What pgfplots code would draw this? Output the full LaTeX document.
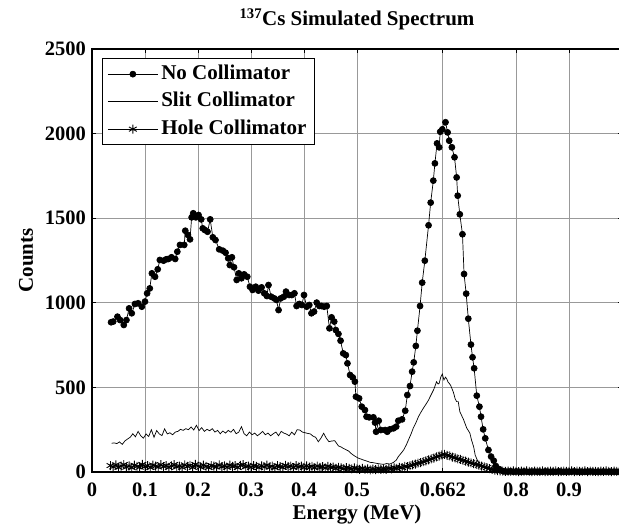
\documentclass[border=0pt]{standalone}
\usepackage{fontspec}
\setmainfont{Liberation Serif}
\usepackage{pgfplots}
\pgfplotsset{compat=1.18}
\newcommand{\tickfont}{\fontsize{20.5}{24}\selectfont\bfseries}
\newcommand{\labfont}{\fontsize{21}{25}\selectfont\bfseries}
\begin{document}
\begin{tikzpicture}
\begin{axis}[
  name=ax,
  scale only axis,
  width=530pt, height=423pt,
  xmin=0, xmax=1, ymin=0, ymax=2500,
  xtick={0,0.1,0.2,0.3,0.4,0.5,0.662,0.8,0.9},
  xticklabels={0,0.1,0.2,0.3,0.4,0.5,0.662,0.8,0.9},
  ytick={0,500,1000,1500,2000,2500},
  yticklabels={0,500,1000,1500,2000,2500},
  tick align=inside,
  major tick length=4pt,
  tick style={black, line width=0.8pt},
  grid=major,
  major grid style={black!40, line width=0.8pt},
  axis line style={black, line width=1.2pt},
  ticklabel style={font=\tickfont},
  xticklabel style={inner sep=0pt, yshift=-11pt},
  yticklabel style={inner sep=0pt, xshift=-6pt},
  xlabel={Energy (MeV)},
  ylabel={Counts},
  xlabel style={font=\labfont, at={(axis description cs:0.5,0)}, anchor=base, yshift=-48pt},
  ylabel style={font=\labfont, at={(axis description cs:0,0.5)}, anchor=base, rotate=0, yshift=59pt},
  title={\textsuperscript{137}Cs Simulated Spectrum},
  title style={font=\labfont, at={(axis description cs:0.5,1)}, anchor=base, yshift=17pt},
  legend style={at={(axis description cs:0,1)}, anchor=north west, xshift=10pt, yshift=-9pt,
    draw=black, line width=0.8pt, fill=white, font=\labfont, row sep=0pt, column sep=0pt,
    inner xsep=5pt, inner ysep=2pt,
    nodes={text height=15pt, text depth=4.5pt, inner ysep=4pt, inner xsep=3pt}},
  legend cell align=left,
  legend image code/.code={\draw[mark repeat=2,mark phase=2,#1] plot coordinates {(0pt,0pt) (25pt,0pt) (50pt,0pt)};},
]
\addplot[black, line width=0.7pt, mark=*, mark size=3pt, mark options={solid, fill=black}] coordinates {
(0.036,885) (0.040,889) (0.048,918) (0.053,898) (0.060,869) (0.065,898) (0.070,967) (0.075,938)
(0.081,993) (0.087,997) (0.094,977) (0.100,1007) (0.104,1056) (0.109,1085) (0.113,1174) (0.119,1154)
(0.124,1198) (0.128,1253) (0.135,1249) (0.140,1257) (0.144,1259) (0.150,1269) (0.157,1259) (0.161,1302)
(0.166,1342) (0.174,1342) (0.176,1426) (0.181,1401) (0.185,1375) (0.188,1505) (0.191,1529) (0.196,1505)
(0.201,1519) (0.206,1493) (0.209,1440) (0.213,1430) (0.218,1420) (0.223,1493) (0.228,1387) (0.233,1371)
(0.240,1316) (0.247,1308) (0.252,1296) (0.257,1263) (0.260,1223) (0.264,1269) (0.268,1210) (0.273,1135)
(0.277,1174) (0.282,1145) (0.287,1168) (0.293,1154) (0.298,1095) (0.303,1076) (0.309,1095) (0.314,1072)
(0.320,1091) (0.325,1056) (0.330,1040) (0.333,1105) (0.338,1036) (0.344,1026) (0.348,1017) (0.352,957)
(0.356,1026) (0.362,1036) (0.366,1066) (0.372,1046) (0.377,1046) (0.382,1056) (0.386,981) (0.391,993)
(0.396,987) (0.400,1046) (0.405,977) (0.410,987) (0.414,938) (0.419,948) (0.424,1001) (0.429,981)
(0.433,981) (0.438,977) (0.443,981) (0.448,849) (0.452,914) (0.457,889) (0.460,839) (0.465,816)
(0.469,776) (0.474,701) (0.479,691) (0.482,642) (0.487,573) (0.492,559) (0.496,534) (0.498,445)
(0.504,435) (0.509,386) (0.515,366) (0.518,327) (0.523,323) (0.531,323) (0.534,292) (0.536,238)
(0.541,303) (0.545,248) (0.553,248) (0.557,238) (0.562,252) (0.569,258) (0.574,268) (0.578,303)
(0.585,311) (0.591,362) (0.595,455) (0.600,508) (0.604,593) (0.607,648) (0.611,745) (0.614,835)
(0.619,981) (0.623,1119) (0.628,1249) (0.635,1458) (0.639,1592) (0.644,1722) (0.647,1824) (0.651,1942)
(0.655,1919) (0.657,2011) (0.661,2025) (0.667,2067) (0.671,2007) (0.674,1958) (0.679,1919) (0.684,1860)
(0.688,1741) (0.690,1633) (0.694,1523) (0.699,1405) (0.702,1170) (0.706,1054) (0.710,906) (0.715,753)
(0.718,678) (0.721,613) (0.726,451) (0.731,386) (0.734,327) (0.738,252) (0.742,199) (0.748,130)
(0.753,91) (0.758,67) (0.762,35) (0.769,16) (0.776,4)
(0.780,3) (0.785,2) (0.790,4) (0.795,1) (0.800,3) (0.805,2) (0.810,1) (0.815,3) (0.820,2) (0.825,1)
(0.830,2) (0.835,3) (0.840,1) (0.845,2) (0.850,1) (0.855,3) (0.860,2) (0.865,1) (0.870,2) (0.875,1)
(0.880,3) (0.885,2) (0.890,1) (0.895,2) (0.900,1) (0.905,2) (0.910,3) (0.915,1) (0.920,2) (0.925,1)
(0.930,2) (0.935,1) (0.940,3) (0.945,2) (0.950,1) (0.955,2) (0.960,1) (0.965,2) (0.970,1) (0.975,2)
(0.980,1) (0.985,2) (0.990,1) (0.995,2) (1.000,1)
};
\addlegendentry{No Collimator}
\addplot[black, line width=0.7pt, no markers] coordinates {
(0.037,170) (0.042,172) (0.047,168) (0.052,178) (0.057,163) (0.062,183) (0.067,195) (0.072,205)
(0.077,226) (0.082,208) (0.087,240) (0.092,214) (0.097,200) (0.102,225) (0.107,210) (0.112,250)
(0.117,205) (0.122,245) (0.127,225) (0.132,215) (0.137,255) (0.142,225) (0.147,232) (0.152,220)
(0.157,236) (0.162,240) (0.167,252) (0.172,246) (0.177,256) (0.182,250) (0.187,266) (0.192,248)
(0.197,276) (0.202,245) (0.207,262) (0.212,240) (0.217,252) (0.222,244) (0.227,256) (0.232,236)
(0.237,246) (0.242,226) (0.247,242) (0.252,230) (0.257,246) (0.262,235) (0.267,252) (0.272,226)
(0.277,236) (0.282,268) (0.287,226) (0.292,214) (0.297,236) (0.302,220) (0.307,230) (0.312,214)
(0.317,226) (0.322,240) (0.327,220) (0.332,230) (0.337,214) (0.342,226) (0.347,236) (0.352,214)
(0.357,240) (0.362,230) (0.367,224) (0.372,214) (0.377,236) (0.382,220) (0.387,250) (0.392,248)
(0.397,236) (0.402,232) (0.407,228) (0.412,225) (0.417,212) (0.422,205) (0.427,179) (0.432,200)
(0.437,229) (0.442,200) (0.447,179) (0.452,183) (0.458,185) (0.465,154) (0.470,148) (0.474,140)
(0.479,132) (0.484,124) (0.488,112) (0.493,100) (0.498,90) (0.503,81)
(0.508,76) (0.512,71) (0.518,65) (0.525,57) (0.531,55) (0.537,51) (0.543,48) (0.550,45)
(0.556,50) (0.562,47) (0.569,57) (0.574,70) (0.578,91) (0.583,110) (0.588,130) (0.593,160)
(0.597,189) (0.602,225) (0.606,258) (0.611,290) (0.616,327) (0.620,350) (0.625,376) (0.629,395)
(0.632,410) (0.635,425) (0.638,445) (0.642,470) (0.645,489) (0.648,515) (0.650,534) (0.653,520)
(0.655,524) (0.658,560) (0.661,579) (0.664,544) (0.667,560) (0.669,553) (0.672,530) (0.674,524)
(0.677,510) (0.679,494) (0.682,470) (0.685,435) (0.688,416) (0.691,416) (0.694,357) (0.698,330)
(0.701,310) (0.704,285) (0.707,260) (0.710,245) (0.713,229) (0.716,190) (0.720,150) (0.723,100)
(0.727,70) (0.732,41) (0.738,30) (0.745,22) (0.751,15) (0.757,10) (0.763,6) (0.770,3)
(0.780,2) (0.800,1) (0.850,1) (0.900,1) (0.950,1) (1.000,1)
};
\addlegendentry{Slit Collimator}
\addplot[black, line width=0.9pt, mark=asterisk, mark size=4.5pt] coordinates {
(0.035,38) (0.040,30) (0.045,42) (0.050,27) (0.055,35) (0.060,44) (0.065,29) (0.070,36)
(0.075,25) (0.080,40) (0.085,33) (0.090,28) (0.095,45) (0.100,31) (0.105,37) (0.110,26)
(0.115,41) (0.120,34) (0.125,29) (0.130,43) (0.135,32) (0.140,38) (0.145,27) (0.150,36)
(0.155,44) (0.160,30) (0.165,35) (0.170,28) (0.175,42) (0.180,33) (0.185,39) (0.190,27)
(0.195,45) (0.200,35) (0.205,30) (0.210,41) (0.215,33) (0.220,26) (0.225,38) (0.230,34)
(0.235,29) (0.240,42) (0.245,31) (0.250,36) (0.255,28) (0.260,40) (0.265,33) (0.270,37)
(0.275,26) (0.280,39) (0.285,44) (0.290,31) (0.295,35) (0.300,28) (0.305,38) (0.310,33)
(0.315,27) (0.320,36) (0.325,30) (0.330,41) (0.335,29) (0.340,34) (0.345,25) (0.350,37)
(0.355,32) (0.360,28) (0.365,39) (0.370,31) (0.375,35) (0.380,26) (0.385,38) (0.390,30)
(0.395,34) (0.400,27) (0.405,36) (0.410,29) (0.415,33) (0.420,25) (0.425,35) (0.430,28)
(0.435,31) (0.440,24) (0.445,33) (0.450,27) (0.455,29) (0.460,22) (0.465,28) (0.470,24)
(0.475,20) (0.480,26) (0.485,21) (0.490,18) (0.495,24) (0.500,19) (0.505,16) (0.510,21)
(0.515,15) (0.520,18) (0.525,13) (0.530,17) (0.535,14) (0.540,19) (0.545,15) (0.550,18)
(0.555,16) (0.560,21) (0.565,19) (0.570,24) (0.575,22) (0.580,28) (0.585,26) (0.590,33)
(0.595,31) (0.600,38) (0.605,42) (0.610,47) (0.615,52) (0.620,55) (0.625,61) (0.630,66)
(0.635,72) (0.640,78) (0.645,82) (0.650,90) (0.655,94) (0.660,101) (0.665,104) (0.670,98)
(0.675,95) (0.680,88) (0.685,84) (0.690,78) (0.695,74) (0.700,68) (0.705,64) (0.710,58)
(0.715,54) (0.720,49) (0.725,45) (0.730,40) (0.735,35) (0.740,30) (0.745,26) (0.750,20)
(0.755,15) (0.760,11) (0.765,8) (0.770,6) (0.775,5) (0.780,4) (0.785,5) (0.790,3)
(0.795,6) (0.800,4) (0.805,2) (0.810,5) (0.815,3) (0.820,6) (0.825,4) (0.830,2)
(0.835,5) (0.840,3) (0.845,4) (0.850,6) (0.855,2) (0.860,4) (0.865,5) (0.870,3)
(0.875,6) (0.880,2) (0.885,4) (0.890,5) (0.895,3) (0.900,4) (0.905,6) (0.910,2)
(0.915,5) (0.920,3) (0.925,4) (0.930,6) (0.935,2) (0.940,5) (0.945,3) (0.950,4)
(0.955,2) (0.960,5) (0.965,3) (0.970,6) (0.975,4) (0.980,2) (0.985,5) (0.990,3)
(0.995,4) (1.000,3)
};
\addlegendentry{Hole Collimator\hspace{4pt}}
\end{axis}
\pgfresetboundingbox
\path[use as bounding box] ([shift={(-92pt,-54pt)}]ax.south west) rectangle ([shift={(-3pt,49pt)}]ax.north east);
\end{tikzpicture}
\end{document}
